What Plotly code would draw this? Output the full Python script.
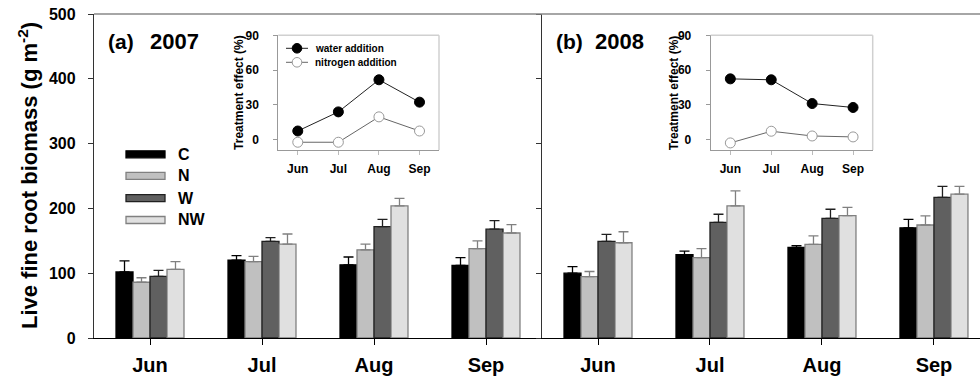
import plotly.graph_objects as go

# ---------------- data ----------------
months = ["Jun", "Jul", "Aug", "Sep"]
treatments = ["C", "N", "W", "NW"]

biomass_2007_C = [102, 120, 113, 112]
biomass_2007_N = [86, 118, 136, 138]
biomass_2007_W = [95, 149, 172, 168]
biomass_2007_NW = [106, 145, 204, 162]
err_2007_C = [17, 7, 12, 12]
err_2007_N = [7, 8, 9, 12]
err_2007_W = [9.5, 6, 11, 13]
err_2007_NW = [12, 15.5, 11.5, 13]

biomass_2008_C = [100, 128.5, 140, 170]
biomass_2008_N = [94.6, 124, 144.6, 174.4]
biomass_2008_W = [149, 178.5, 184.7, 217]
biomass_2008_NW = [147, 204, 188.7, 222]
err_2008_C = [10, 5.5, 2.5, 13]
err_2008_N = [8, 14, 13, 14]
err_2008_W = [11, 12.5, 14, 17]
err_2008_NW = [17, 23, 13, 12]

effect_2007_water = [7.4, 23.9, 51.6, 32.3]
effect_2007_nitrogen = [-2.3, -2.3, 19.6, 7.4]
effect_2008_water = [52.4, 51.6, 31.1, 27.7]
effect_2008_nitrogen = [-2.9, 7.2, 3.1, 2.3]

y_ticks = [0, 100, 200, 300, 400, 500]
inset_ticks = [0, 30, 60, 90]

# ---------------- styles ----------------
FONT = "Liberation Sans, Arial, sans-serif"
fill = {"C": "#000000", "N": "#c0c0c0", "W": "#606060", "NW": "#e0e0e0"}
edge = {"C": "#000000", "N": "#808080", "W": "#202020", "NW": "#808080"}

W_PX, H_PX = 980, 378
L, R, T, B = 94, 0, 14, 40
PW, PH = W_PX - L - R, H_PX - T - B


def px(x):
    return (x - L) / PW


def py(y):
    return (H_PX - B - y) / PH


split = px(542)

fig = go.Figure()

data07 = {"C": (biomass_2007_C, err_2007_C), "N": (biomass_2007_N, err_2007_N),
          "W": (biomass_2007_W, err_2007_W), "NW": (biomass_2007_NW, err_2007_NW)}
data08 = {"C": (biomass_2008_C, err_2008_C), "N": (biomass_2008_N, err_2008_N),
          "W": (biomass_2008_W, err_2008_W), "NW": (biomass_2008_NW, err_2008_NW)}

for xa, ya, d in [("x", "y", data07), ("x2", "y2", data08)]:
    for t in treatments:
        vals, errs = d[t]
        fig.add_trace(go.Bar(
            x=months, y=vals, name=t, xaxis=xa, yaxis=ya, showlegend=False,
            marker=dict(color=fill[t], line=dict(color=edge[t], width=1.3)),
            error_y=dict(type="data", array=errs, arrayminus=[0] * len(errs),
                         symmetric=False, color=edge[t], thickness=1.3, width=5),
        ))

for xa, ya, wv, nv in [("x3", "y3", effect_2007_water, effect_2007_nitrogen),
                       ("x4", "y4", effect_2008_water, effect_2008_nitrogen)]:
    fig.add_trace(go.Scatter(
        x=months, y=wv, xaxis=xa, yaxis=ya, mode="lines+markers", showlegend=False,
        line=dict(color="#222222", width=1),
        marker=dict(color="#000000", size=10, line=dict(color="#000000", width=1))))
    fig.add_trace(go.Scatter(
        x=months, y=nv, xaxis=xa, yaxis=ya, mode="lines+markers", showlegend=False,
        line=dict(color="#666666", width=1),
        marker=dict(color="#ffffff", size=10, line=dict(color="#999999", width=1))))

main_x = dict(tickmode="array", tickvals=months, ticktext=months,
              ticks="outside", ticklen=6, tickcolor="#000", tickwidth=1,
              showline=True, linecolor="#000", linewidth=1.3,
              tickfont=dict(family=FONT, size=20, color="#000", weight="bold"),
              ticklabelstandoff=3, showgrid=False, zeroline=False)

fig.update_layout(
    width=W_PX, height=H_PX,
    margin=dict(l=L, r=R, t=T, b=B, pad=0),
    paper_bgcolor="white", plot_bgcolor="white",
    barmode="group", bargap=0.393, bargroupgap=0,
    showlegend=False,
    font=dict(family=FONT),
    xaxis=dict(domain=[0, split], range=[-0.5, 3.5], anchor="y", **main_x),
    xaxis2=dict(domain=[split, 1], range=[-0.5, 3.411], anchor="y2", **main_x),
    yaxis=dict(domain=[0, 1], range=[0, 500], anchor="x", tickvals=y_ticks,
               ticks="outside", ticklen=5, tickcolor="#333", showline=True,
               linecolor="#333", linewidth=1.3, showgrid=False, zeroline=False,
               ticklabelstandoff=9,
               tickfont=dict(family=FONT, size=16, color="#000", weight="bold")),
    yaxis2=dict(domain=[0, 1], range=[0, 500], anchor="x2", tickvals=y_ticks,
                ticks="outside", ticklen=5, tickcolor="#333", showline=True,
                linecolor="#333", linewidth=1.3, showgrid=False, zeroline=False,
                showticklabels=False),
)

inset_x = dict(tickmode="array", tickvals=months, ticktext=months, range=[-0.48, 3.48],
               ticks="outside", ticklen=4, tickcolor="#bbbbbb", showline=True,
               linecolor="#999999", linewidth=1, showgrid=False, zeroline=False,
               ticklabelstandoff=4,
               tickfont=dict(family=FONT, size=12, color="#000", weight="bold"))
inset_y = dict(range=[-9, 90], tickvals=inset_ticks, ticks="outside", ticklen=4,
               tickcolor="#999999", showline=True, linecolor="#999999", linewidth=1,
               showgrid=False, zeroline=False, ticklabelstandoff=12,
               tickfont=dict(family=FONT, size=12, color="#000", weight="bold"))

iy = [py(150), py(35.3)]
fig.update_layout(
    xaxis3=dict(domain=[px(278.3), px(439)], anchor="y3", **inset_x),
    yaxis3=dict(domain=iy, anchor="x3", **inset_y),
    xaxis4=dict(domain=[px(710.7), px(872.7)], anchor="y4", **inset_x),
    yaxis4=dict(domain=iy, anchor="x4", **inset_y),
)

shapes = []
annotations = []

# top frame line
shapes.append(dict(type="line", xref="paper", yref="paper", x0=0, x1=1, y0=1, y1=1,
                   line=dict(color="#888888", width=1.5)))

# inset frames (top/right light gray) and inset y titles
for xr, yr, shift in [("x3 domain", "y3 domain", -40), ("x4 domain", "y4 domain", -37)]:
    shapes.append(dict(type="line", xref=xr, yref=yr, x0=0, x1=1, y0=1, y1=1,
                       line=dict(color="#d0d0d0", width=1.5)))
    shapes.append(dict(type="line", xref=xr, yref=yr, x0=1, x1=1, y0=0, y1=1,
                       line=dict(color="#d0d0d0", width=1.5)))
    annotations.append(dict(xref=xr, yref=yr, x=0, y=0.5, xshift=shift, showarrow=False,
                            xanchor="center", yanchor="middle",
                            text="Treatment effect (%)", textangle=-90,
                            font=dict(family=FONT, size=12, color="#000", weight="bold")))

# bar legend (manual)
rows = [154.3, 175.9, 198.2, 220.0]
for t, yy in zip(treatments, rows):
    shapes.append(dict(type="rect", xref="paper", yref="paper",
                       x0=px(126), x1=px(165), y0=py(yy + 3.5), y1=py(yy - 3.5),
                       fillcolor=fill[t], line=dict(color=edge[t], width=1.3)))
    annotations.append(dict(xref="paper", yref="paper", x=px(176), y=py(yy),
                            xanchor="left", yanchor="middle", showarrow=False, text=t,
                            font=dict(family=FONT, size=16, color="#000", weight="bold")))

# inset legend (manual)
for label, yy, mfill, mline, lcol in [("water addition", 48.3, "#000000", "#000000", "#222222"),
                                      ("nitrogen addition", 62.3, "#ffffff", "#999999", "#666666")]:
    shapes.append(dict(type="line", xref="paper", yref="paper", x0=px(286), x1=px(308),
                       y0=py(yy), y1=py(yy), line=dict(color=lcol, width=1)))
    shapes.append(dict(type="circle", xref="paper", yref="paper",
                       x0=px(297 - 4.8), x1=px(297 + 4.8), y0=py(yy + 4.8), y1=py(yy - 4.8),
                       fillcolor=mfill, line=dict(color=mline, width=1)))
    annotations.append(dict(xref="paper", yref="paper", x=px(313), y=py(yy),
                            xanchor="left", yanchor="middle", showarrow=False, text=label,
                            font=dict(family=FONT, size=10, color="#000", weight="bold")))

# panel labels
for lab, yr_, xl, xy in [("(a)", "2007", 106, 148), ("(b)", "2008", 554, 593)]:
    annotations.append(dict(xref="paper", yref="paper", x=px(xl), y=py(41),
                            xanchor="left", yanchor="middle", showarrow=False, text=lab,
                            font=dict(family=FONT, size=21, color="#000", weight="bold")))
    annotations.append(dict(xref="paper", yref="paper", x=px(xy), y=py(41),
                            xanchor="left", yanchor="middle", showarrow=False, text=yr_,
                            font=dict(family=FONT, size=22, color="#000", weight="bold")))

# y axis title
annotations.append(dict(xref="paper", yref="paper", x=px(28), y=py(176), showarrow=False,
                        textangle=-90, xanchor="center", yanchor="middle",
                        text="Live fine root biomass (g m<sup>-2</sup>)",
                        font=dict(family=FONT, size=22, color="#000", weight="bold")))

fig.update_layout(shapes=shapes, annotations=annotations)

fig.write_html("out.html")
